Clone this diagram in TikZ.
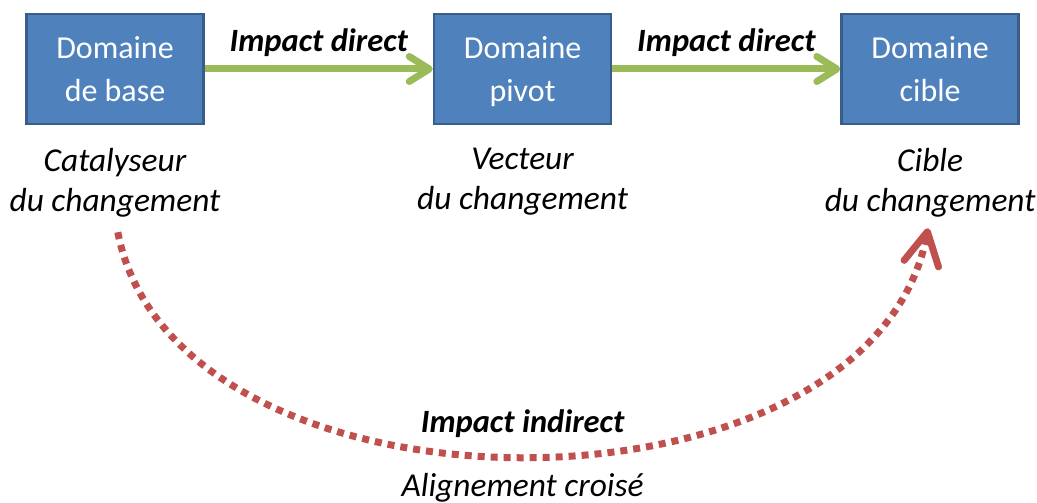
\documentclass[tikz,border=0pt]{standalone}
\usepackage{fontspec}
\setmainfont{Carlito}
\usetikzlibrary{positioning, arrows.meta}

\definecolor{boxblue}{HTML}{4F81BD}
\definecolor{boxedge}{HTML}{385D8A}
\definecolor{directgreen}{HTML}{9BBB59}
\definecolor{indirectred}{HTML}{C0504D}

\tikzset{
	domainbox/.style={rectangle, draw=boxedge, line width=1.5pt, fill=boxblue, text=white,
		minimum width=3.54cm, minimum height=2.2cm, align=center,
		font=\fontsize{18.2}{24.5}\selectfont, text height=40pt, text depth=3.4pt},
	role/.style={align=center, inner sep=0pt, font=\fontsize{19}{22.8}\selectfont\itshape},
	impact/.style={font=\fontsize{18.5}{22}\selectfont\bfseries\itshape},
	direct/.style={draw=directgreen, line width=0.14cm,
		-{Straight Barb[length=0.4cm, width=0.5cm, round]}},
	indirect/.style={draw=indirectred, line width=0.14cm, dash pattern=on 0.14cm off 0.12cm,
		-{Straight Barb[length=0.65cm, width=0.7cm, round]}}
}

\begin{document}
\begin{tikzpicture}[x=0.02cm, y=-0.02cm]
	
	%Frame
	\useasboundingbox (0,0) rectangle (1037,503);
	
	%Domains
	\node[domainbox] (base) at (115,69) {Domaine\\de base};
	\node[domainbox, right=4.56cm of base] (pivot) {Domaine\\pivot};
	\node[domainbox, right=4.56cm of pivot] (cible) {Domaine\\cible};
	
	%Roles
	\node[role, below=0.45cm of base] (cat) {Catalyseur\\du changement};
	\node[role, below=0.45cm of pivot] (vec) {Vecteur\\du changement};
	\node[role, below=0.45cm of cible] (cib) {Cible\\du changement};
	
	%Direct impacts
	\draw[direct] (base) -- node[impact, above=2pt] {Impact direct} (pivot);
	\draw[direct] (pivot) -- node[impact, above=2pt] {Impact direct} (cible);
	
	%Indirect impact
	\draw[indirect, shorten <=0.3cm, shorten >=0.22cm] (cat.south)
		.. controls +(60,315) and +(-60,315) .. (cib.south)
		node[pos=0.5, impact, above=0.14cm] {Impact indirect}
		node[pos=0.5, role, below=0.33cm] {Alignement croisé};
	
\end{tikzpicture}
\end{document}
